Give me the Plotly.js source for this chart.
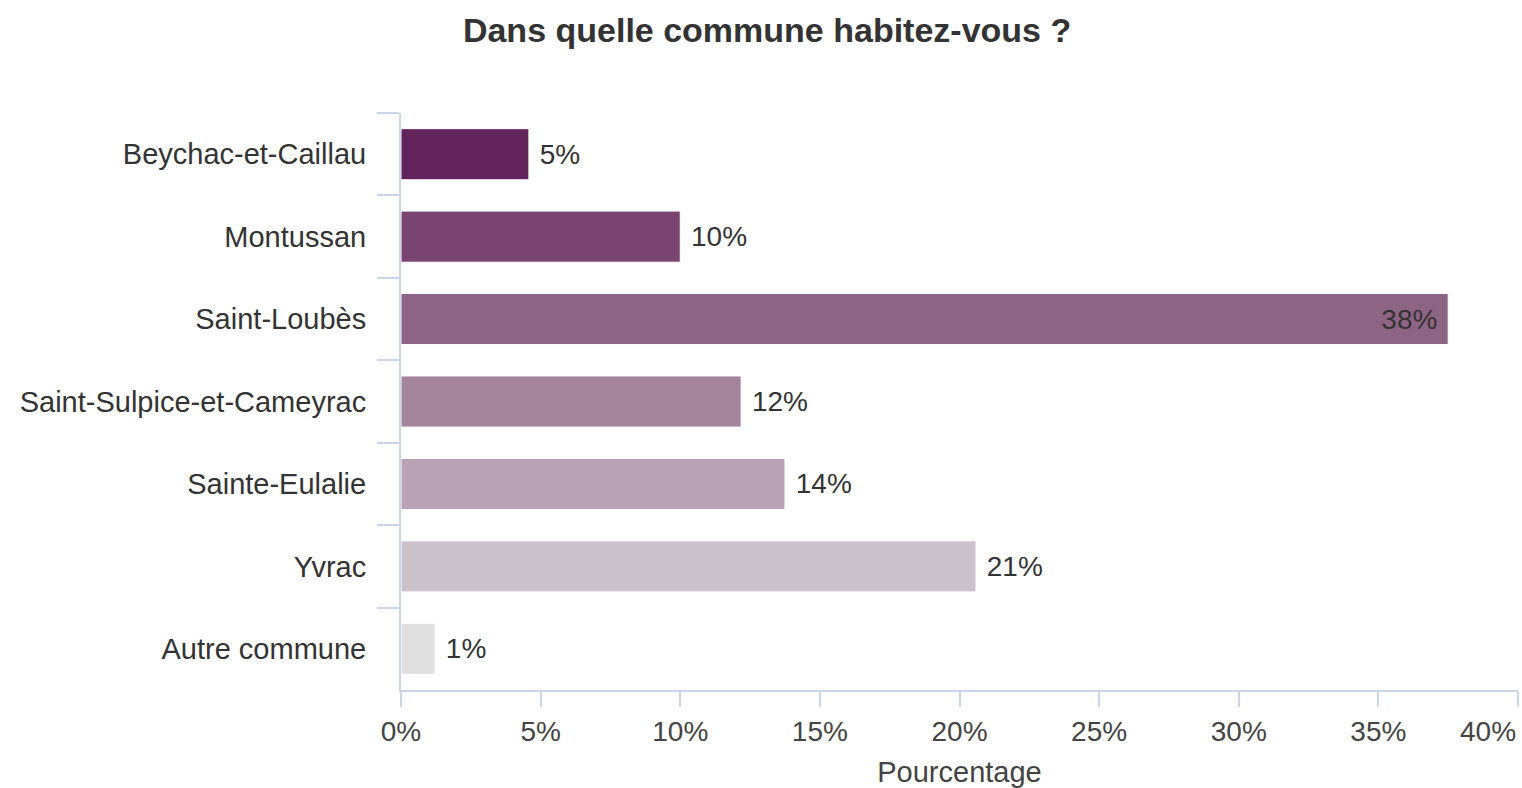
<!DOCTYPE html>
<html><head><meta charset="utf-8">
<script src="https://cdn.plot.ly/plotly-3.0.1.min.js"></script>
<style>html,body{margin:0;padding:0;background:#fff}#chart{width:1522px;height:788px}</style>
</head><body><div id="chart"></div>
<script>
const categories = ["Beychac-et-Caillau","Montussan","Saint-Loubès","Saint-Sulpice-et-Cameyrac","Sainte-Eulalie","Yvrac","Autre commune"];
const values = [4.58, 10.0, 37.5, 12.18, 13.75, 20.59, 1.22];
const labels = ["5%","10%","38%","12%","14%","21%","1%"];
const colors = ["#62235a","#7a4470","#8e6484","#a4849b","#b9a2b3","#ccc2cb","#e0e0e0"];
const tickVals = [0,5,10,15,20,25,30,35,40];
const tickText = ["0%","5%","10%","15%","20%","25%","30%","35%",""];

const font = "Liberation Sans, Arial, sans-serif";
const axisColor = "#ccd6eb";
const NB = "\u00A0";

Plotly.newPlot("chart", [{
  type: "bar",
  orientation: "h",
  y: categories,
  x: values,
  text: labels.map((t, i) => values[i] > 30 ? t + NB : NB + t),
  textposition: values.map(v => v > 30 ? "inside" : "outside"),
  insidetextanchor: "end",
  textfont: {family: font, size: 28, color: "#333333"},
  insidetextfont: {family: font, size: 28, color: "#333333"},
  outsidetextfont: {family: font, size: 28, color: "#333333"},
  cliponaxis: false,
  marker: {color: colors, line: {color: "#ffffff", width: 1}},
  width: 0.62,
  hoverinfo: "none"
}], {
  width: 1522, height: 788,
  paper_bgcolor: "#ffffff", plot_bgcolor: "#ffffff",
  margin: {l: 401, r: 4, t: 113, b: 98},
  title: {text: "<b>Dans quelle commune habitez-vous ?</b>", x: 0.504, xanchor: "center", y: 0.962, yanchor: "middle",
          font: {family: font, size: 34, color: "#333333"}},
  showlegend: false,
  bargap: 0.38,
  xaxis: {
    range: [0, 40], fixedrange: true, automargin: false,
    tickvals: tickVals, ticktext: tickText,
    showgrid: false, zeroline: false,
    showline: true, linecolor: axisColor, linewidth: 2,
    ticks: "outside", ticklen: 15, tickcolor: axisColor, tickwidth: 2,
    tickfont: {family: font, size: 28, color: "#444444"},
    title: {text: "Pourcentage", font: {family: font, size: 29, color: "#444444"}, standoff: 18}
  },
  yaxis: {
    autorange: "reversed", fixedrange: true, automargin: false,
    showgrid: false, zeroline: false,
    showline: true, linecolor: axisColor, linewidth: 2,
    ticks: "outside", tickson: "boundaries", ticklen: 22, tickcolor: axisColor, tickwidth: 2,
    ticklabelstandoff: 27,
    tickfont: {family: font, size: 29, color: "#333333"}
  },
  annotations: [{
    text: "40%", x: 40, xref: "x", y: 0, yref: "paper",
    xanchor: "right", yanchor: "top", yshift: -24, showarrow: false,
    font: {family: font, size: 28, color: "#444444"}
  }]
}, {displayModeBar: false, staticPlot: true});
</script></body></html>
